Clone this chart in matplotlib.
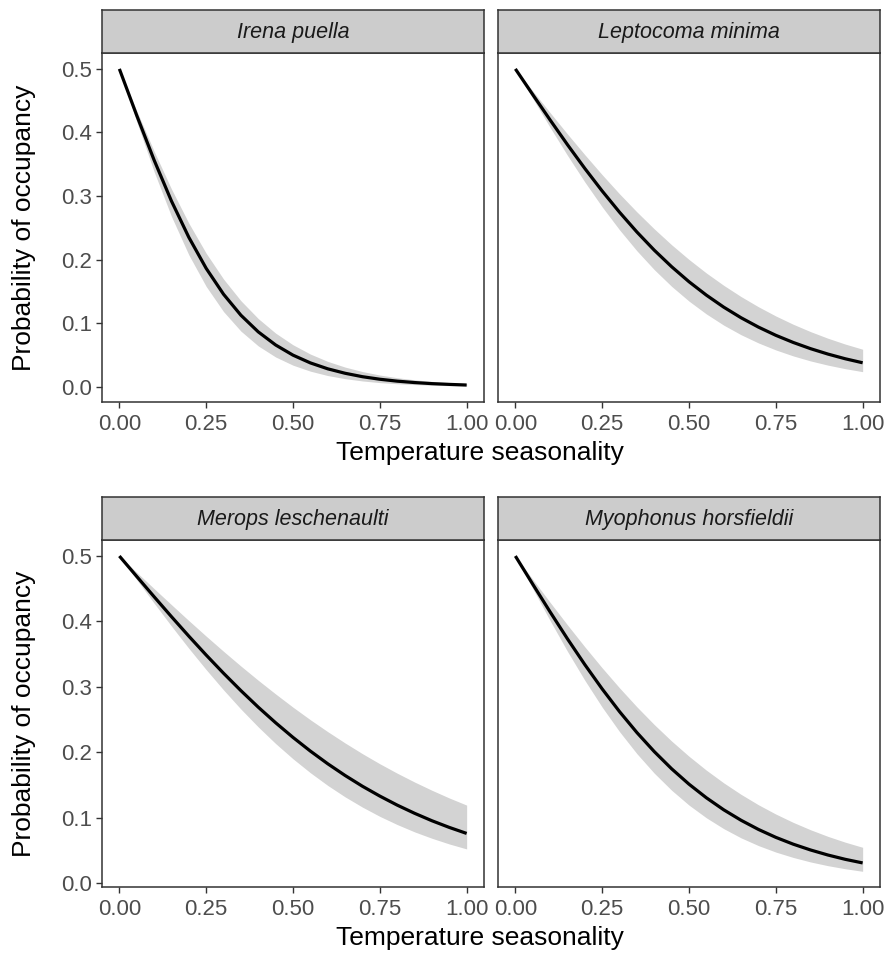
import matplotlib
matplotlib.use("Agg")
import matplotlib.pyplot as plt
import numpy as np

plt.rcParams["font.family"] = ["Liberation Sans", "DejaVu Sans"]

# x grid of the fitted curves (temperature seasonality, scaled)
x = [0.00, 0.05, 0.10, 0.15, 0.20, 0.25, 0.30, 0.35, 0.40, 0.45, 0.50,
     0.55, 0.60, 0.65, 0.70, 0.75, 0.80, 0.85, 0.90, 0.95, 1.00]

species = ["Irena puella", "Leptocoma minima", "Merops leschenaulti", "Myophonus horsfieldii"]

# predicted occupancy (mean) and ribbon bounds
irena_mean = [0.5, 0.4268, 0.3566, 0.2921, 0.2351, 0.1862, 0.1455, 0.1125, 0.0863, 0.0657, 0.0497,
              0.0375, 0.0282, 0.0212, 0.0158, 0.0118, 0.0088, 0.0066, 0.0049, 0.0037, 0.0027]
irena_upper = [0.5, 0.4341, 0.3705, 0.3111, 0.2573, 0.2100, 0.1694, 0.1353, 0.1072, 0.0843, 0.0660,
               0.0514, 0.0399, 0.0309, 0.0239, 0.0184, 0.0142, 0.0109, 0.0084, 0.0065, 0.0050]
irena_lower = [0.5, 0.4170, 0.3385, 0.2680, 0.2075, 0.1578, 0.1182, 0.0875, 0.0642, 0.0468, 0.0339,
               0.0245, 0.0176, 0.0127, 0.0091, 0.0065, 0.0047, 0.0034, 0.0024, 0.0017, 0.0012]

lepto_mean = [0.5, 0.4596, 0.4197, 0.3808, 0.3434, 0.3079, 0.2745, 0.2434, 0.2148, 0.1888, 0.1652,
              0.1441, 0.1252, 0.1085, 0.0938, 0.0809, 0.0697, 0.0599, 0.0514, 0.0440, 0.0377]
lepto_upper = [0.5, 0.4654, 0.4312, 0.3976, 0.3650, 0.3335, 0.3034, 0.2750, 0.2483, 0.2233, 0.2002,
               0.1789, 0.1595, 0.1418, 0.1258, 0.1113, 0.0983, 0.0867, 0.0763, 0.0671, 0.0590]
lepto_lower = [0.5, 0.4536, 0.4080, 0.3640, 0.3221, 0.2829, 0.2468, 0.2138, 0.1842, 0.1579, 0.1347,
               0.1145, 0.0969, 0.0818, 0.0689, 0.0579, 0.0485, 0.0406, 0.0340, 0.0284, 0.0237]

merops_mean = [0.5, 0.4688, 0.4378, 0.4073, 0.3775, 0.3486, 0.3208, 0.2942, 0.2689, 0.2451, 0.2227,
               0.2018, 0.1824, 0.1645, 0.1480, 0.1330, 0.1192, 0.1067, 0.0953, 0.0851, 0.0759]
merops_upper = [0.5, 0.4750, 0.4502, 0.4256, 0.4013, 0.3775, 0.3543, 0.3318, 0.3100, 0.2891, 0.2689,
                0.2497, 0.2315, 0.2142, 0.1978, 0.1824, 0.1680, 0.1545, 0.1419, 0.1301, 0.1192]
merops_lower = [0.5, 0.4638, 0.4280, 0.3929, 0.3589, 0.3263, 0.2953, 0.2660, 0.2387, 0.2133, 0.1900,
                0.1687, 0.1493, 0.1318, 0.1161, 0.1020, 0.0895, 0.0783, 0.0685, 0.0598, 0.0522]

myoph_mean = [0.5, 0.4570, 0.4146, 0.3734, 0.3340, 0.2968, 0.2621, 0.2301, 0.2010, 0.1747, 0.1512,
              0.1304, 0.1120, 0.0960, 0.0820, 0.0699, 0.0595, 0.0506, 0.0429, 0.0363, 0.0308]
myoph_upper = [0.5, 0.4644, 0.4292, 0.3947, 0.3612, 0.3290, 0.2984, 0.2694, 0.2423, 0.2171, 0.1939,
               0.1726, 0.1532, 0.1356, 0.1197, 0.1055, 0.0928, 0.0815, 0.0714, 0.0625, 0.0547]
myoph_lower = [0.5, 0.4502, 0.4013, 0.3543, 0.3100, 0.2689, 0.2315, 0.1978, 0.1680, 0.1419, 0.1192,
               0.0998, 0.0832, 0.0691, 0.0573, 0.0474, 0.0392, 0.0323, 0.0266, 0.0219, 0.0180]

means = [irena_mean, lepto_mean, merops_mean, myoph_mean]
uppers = [irena_upper, lepto_upper, merops_upper, myoph_upper]
lowers = [irena_lower, lepto_lower, merops_lower, myoph_lower]

x_ticks = [0.0, 0.25, 0.5, 0.75, 1.0]
x_ticklabels = ["0.00", "0.25", "0.50", "0.75", "1.00"]
y_ticks = [0.0, 0.1, 0.2, 0.3, 0.4, 0.5]
y_ticklabels = ["0.0", "0.1", "0.2", "0.3", "0.4", "0.5"]

W, H = 885, 955
fig = plt.figure(figsize=(W / 100, H / 100), dpi=100)

# panel boxes in pixels: (left, top, right, bottom), strip height
panels = [(102, 53, 484, 402), (498, 53, 880, 402),
          (102, 540, 484, 887), (498, 540, 880, 887)]
strip_h = 43
row_ylim = [(-0.024, 0.525), (-0.006, 0.5245)]

edge = "#333333"
tick_col = "#4D4D4D"
tick_fs = 16

for i, (l, t, r, b) in enumerate(panels):
    ax = fig.add_axes([l / W, 1 - b / H, (r - l) / W, (b - t) / H])
    ax.fill_between(x, lowers[i], uppers[i], color="#D3D3D3", lw=0)
    ax.plot(x, means[i], color="black", lw=2.3, solid_capstyle="butt")
    ax.set_xlim(-0.05, 1.05)
    ax.set_ylim(*row_ylim[i // 2])
    ax.set_xticks(x_ticks)
    ax.set_xticklabels(x_ticklabels)
    ax.set_yticks(y_ticks)
    if i % 2 == 0:
        ax.set_yticklabels(y_ticklabels)
        ax.tick_params(axis="y", length=4.5, width=1, color=edge, labelsize=tick_fs,
                       labelcolor=tick_col, pad=2.5)
    else:
        ax.tick_params(axis="y", length=0, labelleft=False)
    ax.tick_params(axis="x", length=4.5, width=1, color=edge, labelsize=tick_fs,
                   labelcolor=tick_col, pad=4)
    for s in ax.spines.values():
        s.set_color(edge)
        s.set_linewidth(1.1)

    # facet strip
    sax = fig.add_axes([l / W, 1 - t / H, (r - l) / W, strip_h / H])
    sax.set_facecolor("#CCCCCC")
    sax.set_xticks([])
    sax.set_yticks([])
    for s in sax.spines.values():
        s.set_color(edge)
        s.set_linewidth(1.1)
    sax.text(0.5, 0.48, species[i], style="italic", fontsize=15.5, color="#1A1A1A",
             ha="center", va="center", transform=sax.transAxes)

# axis titles for each row
for row, (t, b) in enumerate([(53, 402), (540, 887)]):
    fig.text(24 / W, 1 - (t + b) / 2 / H, "Probability of occupancy", rotation=90,
             ha="center", va="center", fontsize=19)
    fig.text(480 / W, 1 - (b + 51) / H, "Temperature seasonality",
             ha="center", va="center", fontsize=19)

fig.savefig("out.png", dpi=100)
